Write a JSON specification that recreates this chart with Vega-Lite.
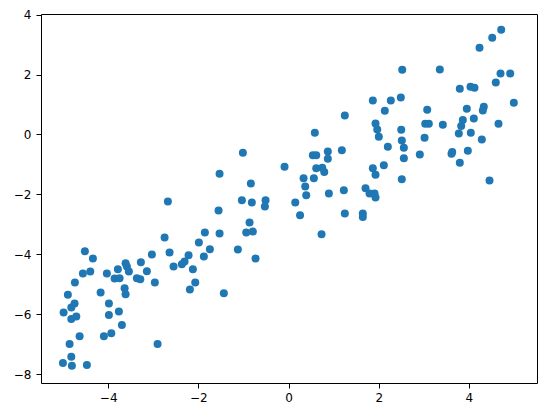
{
  "$schema": "https://vega.github.io/schema/vega-lite/v6.json",
  "width": 496,
  "height": 369,
  "autosize": {"type": "none"},
  "padding": {"left": 41, "top": 14, "right": 9, "bottom": 34},
  "background": "white",
  "config": {
    "view": {"stroke": "black", "strokeWidth": 1},
    "axis": {
      "grid": false,
      "domain": false,
      "tickColor": "black",
      "tickSize": 5,
      "tickWidth": 1,
      "labelFont": "DejaVu Sans",
      "labelFontSize": 12,
      "labelColor": "black",
      "title": null
    },
    "axisX": {"labelPadding": 4},
    "axisY": {"labelPadding": 5}
  },
  "data": {
    "values": [
      {"x": -2.676, "y": -2.243}, {"x": -2.749, "y": -3.443}, {"x": -2.639, "y": -3.943}, {"x": -2.55, "y": -4.41},
      {"x": -4.517, "y": -3.9}, {"x": -4.339, "y": -4.143}, {"x": -4.561, "y": -4.643}, {"x": -4.397, "y": -4.577},
      {"x": -4.738, "y": -4.943}, {"x": -4.894, "y": -5.357}, {"x": -4.745, "y": -5.643}, {"x": -4.818, "y": -5.777},
      {"x": -4.989, "y": -5.943}, {"x": -4.818, "y": -6.167}, {"x": -4.707, "y": -6.077}, {"x": -4.634, "y": -6.743},
      {"x": -4.856, "y": -7.0}, {"x": -4.818, "y": -7.423}, {"x": -5.004, "y": -7.633}, {"x": -4.805, "y": -7.723},
      {"x": -4.472, "y": -7.7}, {"x": -4.168, "y": -5.277}, {"x": -4.029, "y": -4.643}, {"x": -3.785, "y": -4.5},
      {"x": -3.858, "y": -4.81}, {"x": -3.747, "y": -4.8}, {"x": -3.614, "y": -4.3}, {"x": -3.585, "y": -4.41},
      {"x": -3.541, "y": -4.577}, {"x": -3.636, "y": -5.133}, {"x": -3.614, "y": -5.333}, {"x": -3.984, "y": -5.643},
      {"x": -3.984, "y": -6.033}, {"x": -3.763, "y": -5.91}, {"x": -3.696, "y": -6.367}, {"x": -4.095, "y": -6.743},
      {"x": -3.931, "y": -6.643}, {"x": -3.275, "y": -4.267}, {"x": -3.142, "y": -4.567}, {"x": -3.364, "y": -4.8},
      {"x": -3.288, "y": -4.833}, {"x": -3.031, "y": -4.01}, {"x": -2.965, "y": -4.943}, {"x": -2.905, "y": -7.0},
      {"x": -1.013, "y": -0.61}, {"x": -1.53, "y": -1.31}, {"x": -0.089, "y": -1.077}, {"x": -0.836, "y": -1.643},
      {"x": -1.035, "y": -2.2}, {"x": -0.814, "y": -2.277}, {"x": -0.51, "y": -2.2}, {"x": -0.525, "y": -2.41},
      {"x": 0.149, "y": -2.277}, {"x": 0.255, "y": -2.7}, {"x": -1.552, "y": -2.543}, {"x": -0.865, "y": -2.943},
      {"x": -0.938, "y": -3.277}, {"x": -0.792, "y": -3.243}, {"x": -1.856, "y": -3.277}, {"x": -1.53, "y": -3.31},
      {"x": -1.989, "y": -3.61}, {"x": -1.745, "y": -3.833}, {"x": -1.124, "y": -3.843}, {"x": -0.732, "y": -4.143},
      {"x": -2.217, "y": -4.033}, {"x": -1.878, "y": -4.077}, {"x": -2.306, "y": -4.243}, {"x": -2.366, "y": -4.333},
      {"x": -2.122, "y": -4.5}, {"x": -2.069, "y": -4.943}, {"x": -2.188, "y": -5.177}, {"x": -1.435, "y": -5.3},
      {"x": 1.869, "y": 1.133}, {"x": 2.268, "y": 1.133}, {"x": 2.49, "y": 1.233}, {"x": 2.135, "y": 0.79},
      {"x": 3.075, "y": 0.823}, {"x": 1.248, "y": 0.633}, {"x": 1.929, "y": 0.367}, {"x": 1.967, "y": 0.167},
      {"x": 2.002, "y": -0.077}, {"x": 2.499, "y": 0.157}, {"x": 3.031, "y": 0.357}, {"x": 3.016, "y": -0.11},
      {"x": 2.512, "y": -0.2}, {"x": 2.557, "y": -0.443}, {"x": 2.202, "y": -0.41}, {"x": 0.583, "y": 0.057},
      {"x": 0.871, "y": -0.567}, {"x": 0.539, "y": -0.7}, {"x": 0.614, "y": -0.7}, {"x": 1.182, "y": -0.533},
      {"x": 0.871, "y": -0.81}, {"x": 2.557, "y": -0.8}, {"x": 2.911, "y": -0.667}, {"x": 0.614, "y": -1.133},
      {"x": 0.747, "y": -1.11}, {"x": 0.792, "y": -1.257}, {"x": 0.333, "y": -1.467}, {"x": 0.561, "y": -1.467},
      {"x": 0.37, "y": -1.743}, {"x": 0.392, "y": -2.033}, {"x": 0.894, "y": -1.977}, {"x": 1.226, "y": -1.867},
      {"x": 1.869, "y": -1.133}, {"x": 1.929, "y": -1.343}, {"x": 2.113, "y": -1.033}, {"x": 2.512, "y": -1.5},
      {"x": 1.707, "y": -1.8}, {"x": 1.796, "y": -1.977}, {"x": 1.907, "y": -1.977}, {"x": 1.929, "y": -2.11},
      {"x": 1.248, "y": -2.643}, {"x": 1.647, "y": -2.643}, {"x": 1.647, "y": -2.757}, {"x": 0.732, "y": -3.333},
      {"x": 4.716, "y": 3.49}, {"x": 4.517, "y": 3.223}, {"x": 4.235, "y": 2.89}, {"x": 2.521, "y": 2.157},
      {"x": 3.355, "y": 2.167}, {"x": 4.701, "y": 2.033}, {"x": 4.916, "y": 2.033}, {"x": 4.596, "y": 1.733},
      {"x": 3.798, "y": 1.523}, {"x": 4.035, "y": 1.59}, {"x": 4.124, "y": 1.557}, {"x": 4.996, "y": 1.057},
      {"x": 3.953, "y": 0.857}, {"x": 4.33, "y": 0.923}, {"x": 4.308, "y": 0.8}, {"x": 4.109, "y": 0.533},
      {"x": 3.865, "y": 0.477}, {"x": 3.829, "y": 0.277}, {"x": 3.776, "y": 0.033}, {"x": 3.111, "y": 0.357},
      {"x": 3.421, "y": 0.323}, {"x": 4.042, "y": 0.057}, {"x": 4.656, "y": 0.357}, {"x": 4.286, "y": -0.167},
      {"x": 3.63, "y": -0.59}, {"x": 3.614, "y": -0.643}, {"x": 3.976, "y": -0.543}, {"x": 3.798, "y": -0.943},
      {"x": 4.457, "y": -1.543}
    ]
  },
  "mark": {"type": "circle", "color": "#1f77b4", "opacity": 1, "size": 64},
  "encoding": {
    "x": {
      "field": "x",
      "type": "quantitative",
      "scale": {"domain": [-5.49, 5.51], "nice": false, "zero": false},
      "axis": {"values": [-4, -2, 0, 2, 4], "format": "d"}
    },
    "y": {
      "field": "y",
      "type": "quantitative",
      "scale": {"domain": [-8.3, 4.02], "nice": false, "zero": false},
      "axis": {"values": [-8, -6, -4, -2, 0, 2, 4], "format": "d"}
    }
  }
}
